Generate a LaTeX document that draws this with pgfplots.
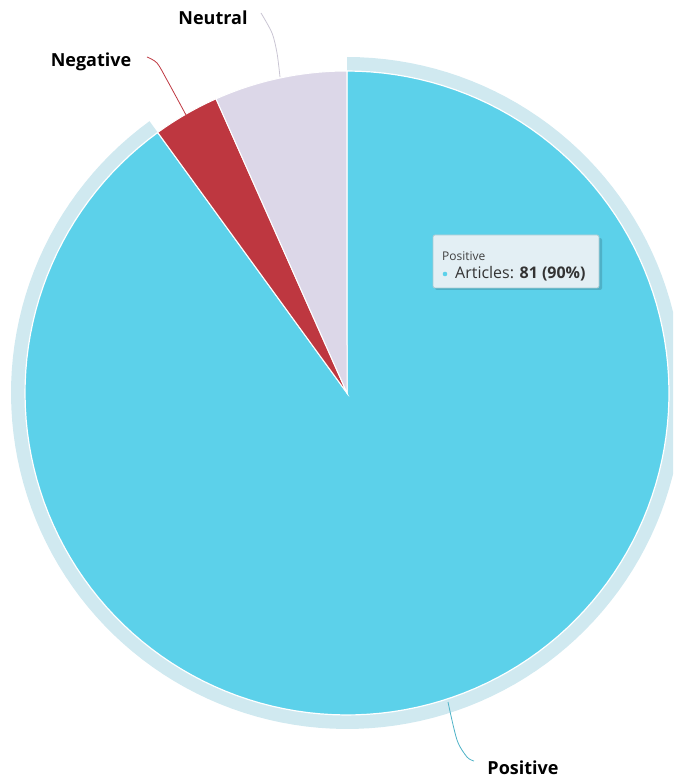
\documentclass[border=0pt]{standalone}
\usepackage{pgfplots}
\pgfplotsset{compat=1.18}
\usepackage{fontspec}
\setmainfont{Open Sans}
\definecolor{cPos}{HTML}{5CD1EA}
\definecolor{cNeg}{HTML}{BE3740}
\definecolor{cNeu}{HTML}{DCD7E8}
\definecolor{cHalo}{HTML}{D0E9F0}
\definecolor{cTip}{HTML}{E3EFF4}
% data: Articles per sentiment
\def\vPos{81}\def\vNeg{3}\def\vNeu{6}
\pgfmathsetmacro\tot{\vPos+\vNeg+\vNeu}
\pgfmathsetmacro\aA{90}
\pgfmathsetmacro\aB{90-360*(\vPos/\tot)}
\pgfmathsetmacro\aC{\aB-360*(\vNeg/\tot)}
\pgfmathsetmacro\aD{\aC-360*(\vNeu/\tot)}
\begin{document}
\begin{tikzpicture}
\useasboundingbox (0,0) rectangle (673pt,779pt);
\clip (0,0) rectangle (673pt,779pt);
\begin{axis}[
  at={(0pt,0pt)}, anchor=origin,
  x=1pt, y=1pt, xmin=0, xmax=673, ymin=0, ymax=779,
  hide axis, clip=false,
  every axis plot/.append style={no markers},
]
% halo around Positive
\addplot[fill=cHalo, draw=none, domain=\aB:\aA, samples=150, variable=\t]
  ({347+336*cos(t)}, {386+336*sin(t)}) -- (axis cs:347,386) -- cycle;
% slices
\addplot[fill=cPos, draw=white, line width=1.2pt, domain=\aB:\aA, samples=150, variable=\t]
  ({347+322*cos(t)}, {386+322*sin(t)}) -- (axis cs:347,386) -- cycle;
\addplot[fill=cNeg, draw=white, line width=1pt, domain=\aC:\aB, samples=20, variable=\t]
  ({347+322*cos(t)}, {386+322*sin(t)}) -- (axis cs:347,386) -- cycle;
\addplot[fill=cNeu, draw=white, line width=1pt, domain=\aD:\aC, samples=30, variable=\t]
  ({347+322*cos(t)}, {386+322*sin(t)}) -- (axis cs:347,386) -- cycle;
% connectors
\addplot[draw=cNeu!80!gray, line width=0.8pt, smooth] coordinates {(261,766) (272,746) (277,726) (280,702)};
\addplot[draw=cNeg, line width=0.8pt, smooth] coordinates {(147,722) (157,716) (167,699) (186,664)};
\addplot[draw=cPos!85!black, line width=0.8pt, smooth] coordinates {(448,77) (457,39) (467,22) (474,18)};
% labels
\node[font=\fontsize{18}{20}\selectfont\bfseries, anchor=center] at (axis cs:213,761) {Neutral};
\node[font=\fontsize{18}{20}\selectfont\bfseries, anchor=center] at (axis cs:91,717) {Negative};
\node[font=\fontsize{18}{20}\selectfont\bfseries, anchor=base, inner sep=0pt] at (axis cs:523,5) {Positive};
% tooltip
\fill[black, opacity=0.15, rounded corners=2pt] (axis cs:435,489) rectangle (axis cs:602,541);
\draw[fill=cTip, draw=cPos!50!gray!60, line width=0.8pt, rounded corners=2pt] (axis cs:433,491) rectangle (axis cs:599,544);
\node[font=\fontsize{12}{14}\selectfont, text=black!75, anchor=west, inner sep=0pt] at (axis cs:442,523) {Positive};
\fill[cPos] (axis cs:445,505) circle[radius=2.3pt];
\node[font=\fontsize{16}{18}\selectfont, text=black!80, anchor=west, inner sep=0pt] at (axis cs:455,505) {Articles: \textbf{81 (90\%)}};
\end{axis}
\end{tikzpicture}
\end{document}
